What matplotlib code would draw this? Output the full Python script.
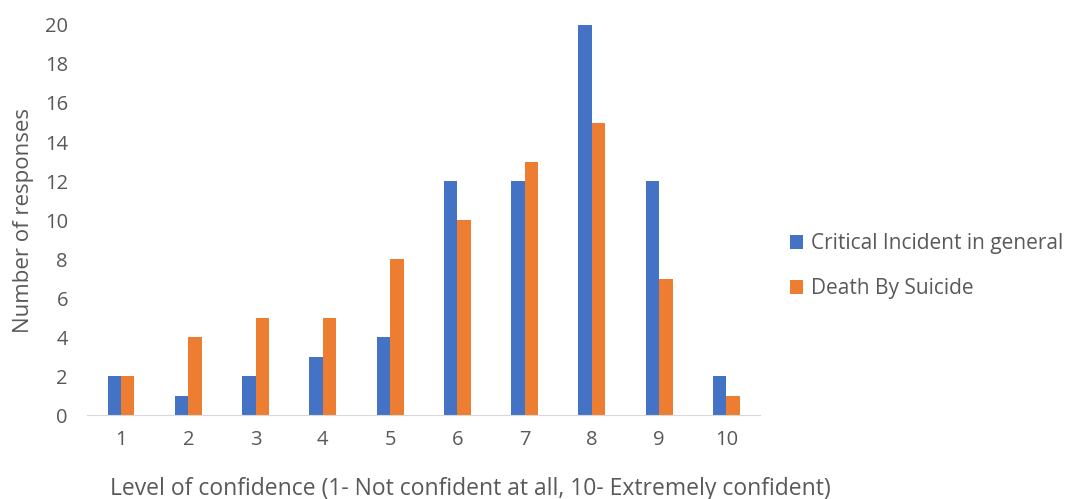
import numpy as np
import matplotlib.pyplot as plt

plt.rcParams['font.family'] = ['Open Sans', 'DejaVu Sans']

# Confidence levels and response counts
levels = ['1', '2', '3', '4', '5', '6', '7', '8', '9', '10']
critical_incident = [2, 1, 2, 3, 4, 12, 12, 20, 12, 2]
death_by_suicide = [2, 4, 5, 5, 8, 10, 13, 15, 7, 1]

fig = plt.figure(figsize=(10.66, 4.99), dpi=100)
ax = fig.add_axes([0.082, 0.168, 0.631, 0.782])

x = np.arange(len(levels))
w = 0.2
ax.bar(x - w / 2, critical_incident, w, color='#4472C4', label='Critical Incident in general')
ax.bar(x + w / 2, death_by_suicide, w, color='#ED7D31', label='Death By Suicide')

ax.set_xlim(-0.5, len(levels) - 0.5)
ax.set_ylim(0, 20)
ax.set_yticks(range(0, 21, 2))
ax.set_xticks(x)
ax.set_xticklabels(levels)

for side in ['top', 'right', 'left']:
    ax.spines[side].set_visible(False)
ax.spines['bottom'].set_color('#D9D9D9')
ax.tick_params(axis='both', length=0, labelsize=14.5, colors='#595959')
ax.tick_params(axis='x', pad=11)
ax.tick_params(axis='y', pad=14)

ax.set_ylabel('Number of responses', fontsize=16, color='#595959', labelpad=8)
ax.set_xlabel('Level of confidence (1- Not confident at all, 10- Extremely confident)',
              fontsize=16.5, color='#595959')
# x title sits a bit right of the plot centre, under the legend gap
ax.xaxis.set_label_coords(0.569, -0.158)

ax.legend(loc='center left', bbox_to_anchor=(0.741, 0.466), bbox_transform=fig.transFigure,
          frameon=False, borderpad=0, borderaxespad=0,
          fontsize=15, labelcolor='#595959', handlelength=0.65, handleheight=0.65,
          handletextpad=0.35, labelspacing=1.15)

fig.savefig('out.png', dpi=100)
